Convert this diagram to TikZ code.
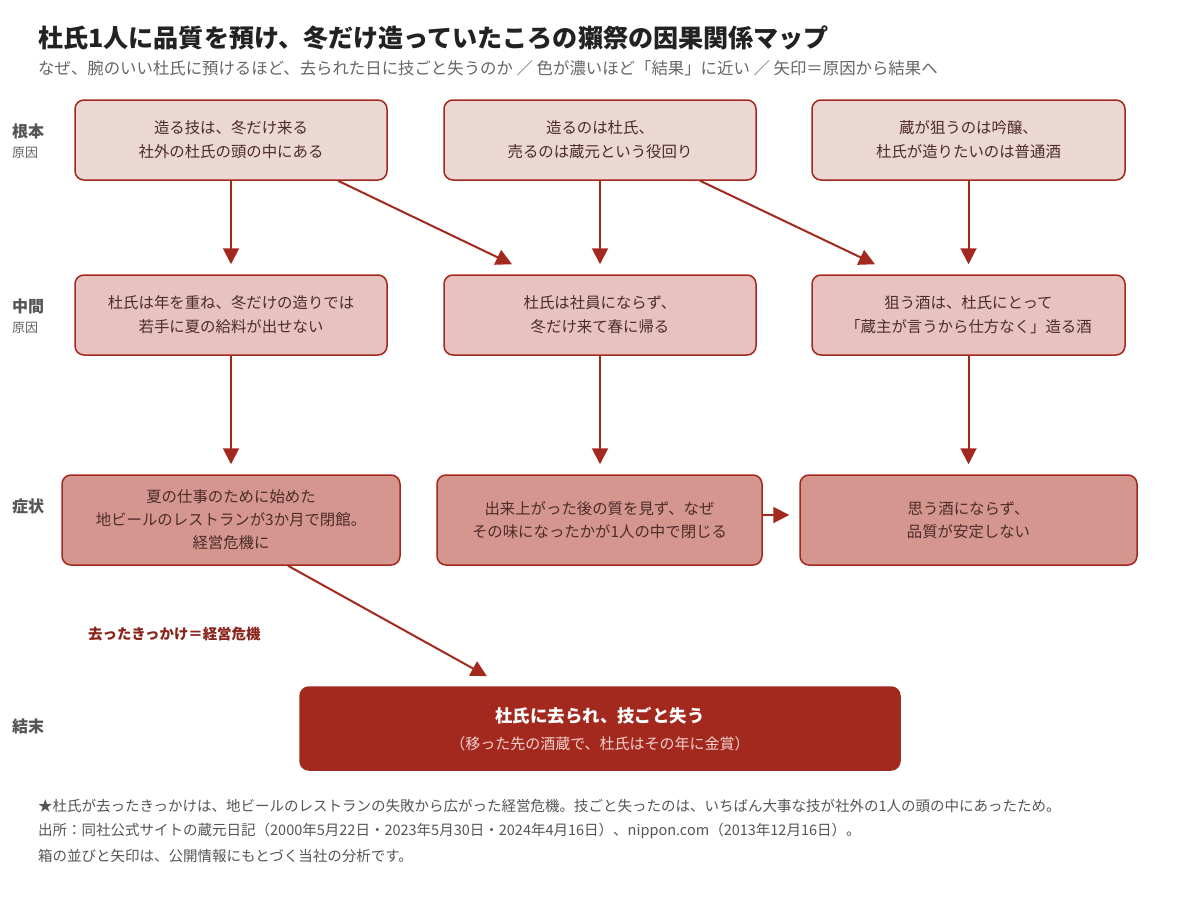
\documentclass[tikz,border=0pt]{standalone}
\usepackage{fontspec}
\setmainfont{Noto Sans CJK JP}
\usetikzlibrary{arrows.meta}
\definecolor{dred}{HTML}{A3291F}
\definecolor{fillA}{HTML}{EBD7D4}
\definecolor{fillB}{HTML}{E6C3BF}
\definecolor{fillC}{HTML}{D4968F}
\definecolor{btext}{HTML}{4E2C28}
\definecolor{lgray}{HTML}{555555}
\definecolor{sgray}{HTML}{666666}
\definecolor{ttl}{HTML}{222222}
\definecolor{fsub}{HTML}{F2D2CE}
\newcommand\fsz[2]{\fontsize{#1pt}{#2pt}\selectfont}
\tikzset{
  box/.style={draw=dred, line width=1.5pt, rounded corners=9pt, align=center,
    inner sep=0pt, text=btext, font=\fsz{15.4}{24}},
  boxA/.style={box, fill=fillA, minimum height=80pt},
  boxB/.style={box, fill=fillB, minimum height=80pt},
  boxC/.style={box, fill=fillC, minimum height=90pt, font=\fsz{15.4}{23}},
  arr/.style={draw=dred, line width=2pt, -{Triangle[length=16pt,width=16pt]}},
  rowlab/.style={anchor=west, inner sep=0pt, text=lgray, font=\bfseries\fsz{16}{18}},
  rowsub/.style={anchor=west, inner sep=0pt, text=sgray, font=\fsz{13}{15}},
  foot/.style={anchor=west, inner sep=0pt, text=lgray, font=\fsz{14.5}{16}}
}
\begin{document}
\begin{tikzpicture}[x=1pt,y=-1pt]
\useasboundingbox (0,0) rectangle (1200,900);
\fill[white] (0,0) rectangle (1200,900);

% title
\node[anchor=west, inner sep=0pt, text=ttl, font=\bfseries\fsz{25.1}{28}] (title) at (38,38) {杜氏1人に品質を預け、冬だけ造っていたころの獺祭の因果関係マップ};
\node[anchor=west, inner sep=0pt, text=sgray, font=\fsz{16.4}{18}] (subtitle) at (38,68) {なぜ、腕のいい杜氏に預けるほど、去られた日に技ごと失うのか ／ 色が濃いほど「結果」に近い ／ 矢印＝原因から結果へ};

% row labels
\node[rowlab] (l1) at (12,131) {根本};
\node[rowsub] (l1s) at (12,153) {原因};
\node[rowlab] (l2) at (12,306) {中間};
\node[rowsub] (l2s) at (12,328) {原因};
\node[rowlab] (l3) at (12,506) {症状};
\node[rowlab] (l4) at (12,726) {結末};

% row 1
\node[boxA, minimum width=312pt] (r1a) at (231,140) {造る技は、冬だけ来る\\社外の杜氏の頭の中にある};
\node[boxA, minimum width=312pt] (r1b) at (600,140) {造るのは杜氏、\\売るのは蔵元という役回り};
\node[boxA, minimum width=313pt] (r1c) at (968.5,140) {蔵が狙うのは吟醸、\\杜氏が造りたいのは普通酒};

% row 2
\node[boxB, minimum width=312pt] (r2a) at (231,315) {杜氏は年を重ね、冬だけの造りでは\\若手に夏の給料が出せない};
\node[boxB, minimum width=312pt] (r2b) at (600,315) {杜氏は社員にならず、\\冬だけ来て春に帰る};
\node[boxB, minimum width=313pt] (r2c) at (968.5,315) {狙う酒は、杜氏にとって\\「蔵主が言うから仕方なく」造る酒};

% row 3
\node[boxC, minimum width=338pt] (r3a) at (231,520) {夏の仕事のために始めた\\地ビールのレストランが3か月で閉館。\\経営危機に};
\node[boxC, minimum width=325pt] (r3b) at (599.5,520) {出来上がった後の質を見ず、なぜ\\その味になったかが1人の中で閉じる};
\node[boxC, minimum width=337pt] (r3c) at (968.5,520) {思う酒にならず、\\品質が安定しない};

% final
\node[box, fill=dred, minimum width=600pt, minimum height=83pt] (fin) at (600,728.5) {};
\node[inner sep=0pt, text=white, font=\bfseries\fsz{17.4}{20}] (fint) at (600,716) {杜氏に去られ、技ごと失う};
\node[inner sep=0pt, text=fsub, font=\fsz{15}{18}] (fins) at (600,744) {（移った先の酒蔵で、杜氏はその年に金賞）};

% edge label
\node[anchor=west, inner sep=0pt, text=dred!85!black, font=\bfseries\fsz{14.4}{16}] (elab) at (88,634) {去ったきっかけ＝経営危機};

% arrows row1 -> row2
\draw[arr] (r1a.south) -- ([yshift=10pt]r2a.north);
\draw[arr] ([xshift=107pt]r1a.south) -- ([xshift=-88pt,yshift=10pt]r2b.north);
\draw[arr] (r1b.south) -- ([yshift=10pt]r2b.north);
\draw[arr] ([xshift=100pt]r1b.south) -- ([xshift=-93.5pt,yshift=10pt]r2c.north);
\draw[arr] (r1c.south) -- ([yshift=10pt]r2c.north);

% row2 -> row3
\draw[arr] (r2a.south) -- ([yshift=10pt]r3a.north);
\draw[arr] (r2b.south) -- ([xshift=0.5pt,yshift=10pt]r3b.north);
\draw[arr] (r2c.south) -- ([yshift=10pt]r3c.north);

% row3 horizontal
\draw[arr] ([yshift=5pt]r3b.east) -- ([xshift=-10pt,yshift=5pt]r3c.west);

% to final
\draw[arr] ([xshift=57pt]r3a.south) -- ([xshift=-113pt,yshift=10pt]fin.north);

% footer
\node[foot] (f1) at (38,806) {★杜氏が去ったきっかけは、地ビールのレストランの失敗から広がった経営危機。技ごと失ったのは、いちばん大事な技が社外の1人の頭の中にあったため。};
\node[foot] (f2) at (38,831) {出所：同社公式サイトの蔵元日記（2000年5月22日・2023年5月30日・2024年4月16日）、nippon.com（2013年12月16日）。};
\node[foot] (f3) at (38,856) {箱の並びと矢印は、公開情報にもとづく当社の分析です。};
\end{tikzpicture}
\end{document}
